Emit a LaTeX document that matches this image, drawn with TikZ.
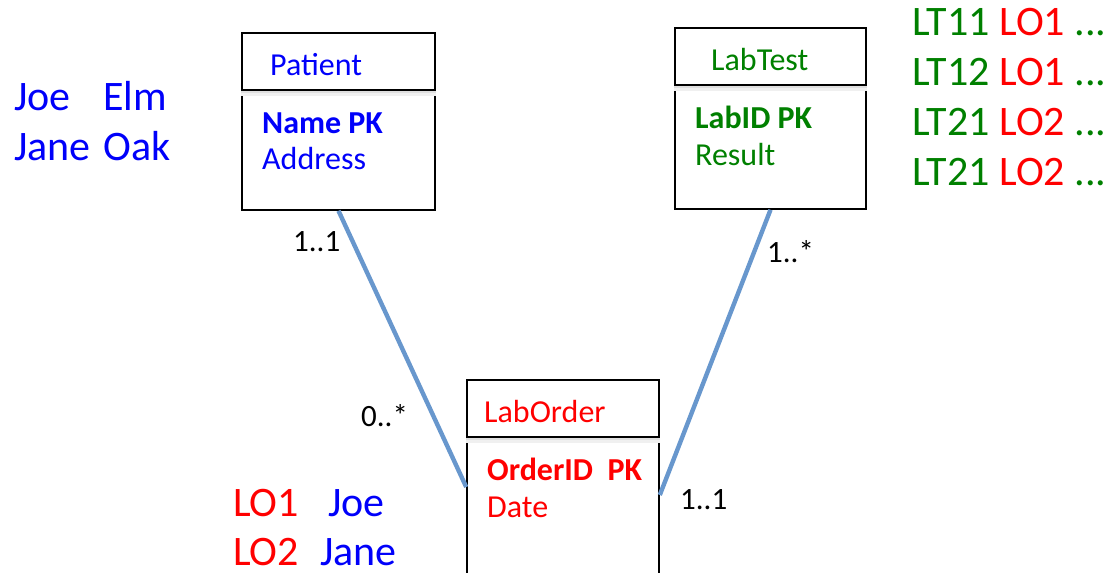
\documentclass[tikz,border=0pt]{standalone}
\usepackage{fontspec}
\setmainfont{Carlito}
\usetikzlibrary{calc}

\definecolor{keyblue}{RGB}{0,0,250}
\definecolor{keygreen}{RGB}{0,128,0}
\definecolor{keyred}{RGB}{255,0,0}
\definecolor{linkblue}{RGB}{104,151,205}

\begin{document}
\begin{tikzpicture}[x=1pt, y=-1pt,
  entity/.style={draw=black, line width=1.6pt, inner sep=0pt},
  divider/.style={draw=black, line width=1.6pt},
  attr/.style={anchor=base west, inner sep=0pt, font=\fontsize{32}{38}\selectfont},
  card/.style={anchor=base west, inner sep=0pt, font=\fontsize{31}{37}\selectfont},
  row/.style={anchor=base west, inner sep=0pt, font=\fontsize{42}{50}\selectfont},
  assoc/.style={draw=linkblue, line width=4.4pt}]

% The picture is drawn in pixels of the reference and clipped to it
\coordinate (clipping area) at (1114, 573);
\useasboundingbox (0,0) rectangle (clipping area);
\clip (0,0) rectangle (clipping area);

% Entity boxes
\node[entity, minimum width=193pt, minimum height=177pt] (patient)  at (338.5, 121.5) {};
\node[entity, minimum width=191pt, minimum height=181pt] (labtest)  at (770.5, 118.5) {};
\node[entity, minimum width=192pt, minimum height=220pt] (laborder) at (563, 490) {};

% Header lines, with a soft shadow under them
\foreach \ent in {patient, labtest, laborder} {
  \draw[gray!12, line width=5pt] ([yshift=-61pt]\ent.north west) -- ([yshift=-61pt]\ent.north east);
  \draw[gray!25, line width=2pt] ([yshift=-60pt]\ent.north west) -- ([yshift=-60pt]\ent.north east);
  \draw[divider] ([yshift=-58pt]\ent.north west) -- ([yshift=-58pt]\ent.north east);
}

% Titles and attributes
\node[attr, text=keyblue] (patient title) at (270, 75) {Patient};
\node[attr, text=keyblue] (patient key)   at (262, 133) {\textbf{Name PK}};
\node[attr, text=keyblue] (patient addr)  at (262, 169) {Address};

\node[attr, text=keygreen] (labtest title) at (711, 70) {LabTest};
\node[attr, text=keygreen] (labtest key)   at (695, 128) {\textbf{LabID PK}};
\node[attr, text=keygreen] (labtest res)   at (695, 165) {Result};

\node[attr, text=keyred] (laborder title) at (484, 422) {LabOrder};
\node[attr, text=keyred] (laborder key)   at (487, 480) {\textbf{OrderID\ \ PK}};
\node[attr, text=keyred] (laborder date)  at (487, 517) {Date};

% Associations
\draw[assoc] (patient.south) -- ([yshift=3pt]laborder.west);
\draw[assoc] (labtest.south) -- ([yshift=-5pt]laborder.east);

% Multiplicities
\node[card] (card patient)  at (293, 251) {1..1};
\node[card] (card order l)  at (361, 426) {0..*};
\node[card] (card labtest)  at (767, 262) {1..*};
\node[card] (card order r)  at (680, 509) {1..1};

% Sample rows
\node[row, text=keyblue] (joe)  at (14, 110) {Joe};
\node[row, text=keyblue] (elm)  at (103, 110) {Elm};
\node[row, text=keyblue] (jane) at (14, 160) {Jane};
\node[row, text=keyblue] (oak)  at (103, 160) {Oak};

\node[row, text=keyred]  (lo1)      at (233, 516) {LO1};
\node[row, text=keyblue] (lo1 joe)  at (328, 516) {Joe};
\node[row, text=keyred]  (lo2)      at (233, 565) {LO2};
\node[row, text=keyblue] (lo2 jane) at (320, 565) {Jane};

\node[row, text=keygreen] (lt11) at (912, 35)  {LT11 \textcolor{keyred}{LO1} ...};
\node[row, text=keygreen] (lt12) at (912, 85)  {LT12 \textcolor{keyred}{LO1} ...};
\node[row, text=keygreen] (lt21) at (912, 135) {LT21 \textcolor{keyred}{LO2} ...};
\node[row, text=keygreen] (lt22) at (912, 185) {LT21 \textcolor{keyred}{LO2} ...};

\end{tikzpicture}
\end{document}
